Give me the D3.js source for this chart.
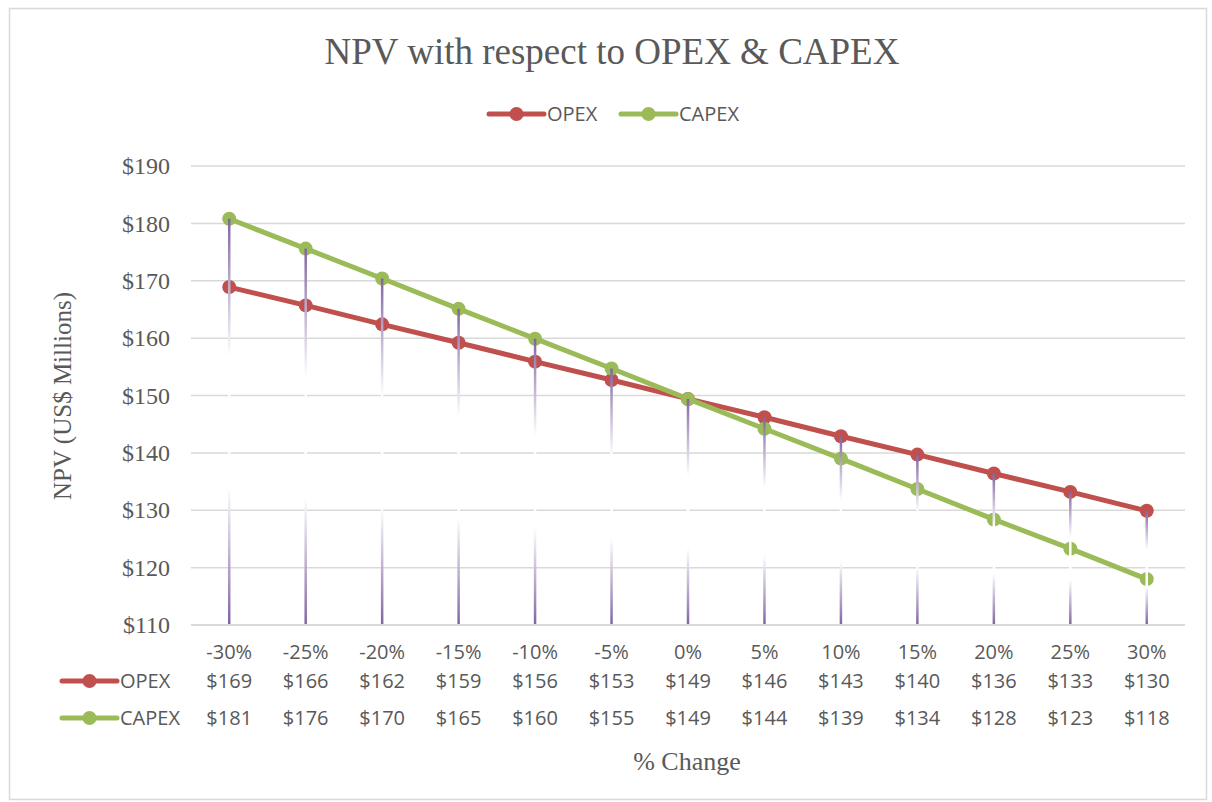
<!DOCTYPE html>
<html>
<head>
<meta charset="utf-8">
<script src="https://cdn.jsdelivr.net/npm/d3@7"></script>
<style>
  body { margin: 0; background: #fff; }
  svg { display: block; }
</style>
</head>
<body>
<svg id="chart" width="1212" height="802"></svg>
<script>
// chart data
const categories = ["-30%", "-25%", "-20%", "-15%", "-10%", "-5%", "0%", "5%", "10%", "15%", "20%", "25%", "30%"];
const opex = [168.9, 165.7, 162.4, 159.2, 155.9, 152.7, 149.4, 146.2, 142.9, 139.7, 136.4, 133.2, 129.9];
const capex = [180.8, 175.6, 170.4, 165.1, 159.9, 154.7, 149.4, 144.2, 139.0, 133.7, 128.4, 123.3, 118.0];
const yTicks = [110, 120, 130, 140, 150, 160, 170, 180, 190];

const series = [
    { name: "OPEX", values: opex, color: "#C0504D" },
    { name: "CAPEX", values: capex, color: "#9BBB59" }
];

const plot = { left: 191, right: 1185, top: 166, bottom: 625 };
const textColor = "#595959";
const serif = "'Liberation Serif', 'Times New Roman', serif";
const sans = "'Open Sans', 'Noto Sans', sans-serif";
const sansSize = "20px";

const svg = d3.select("#chart");

// outer chart border
svg.append("rect")
    .attr("x", 9.5).attr("y", 8.5)
    .attr("width", 1197).attr("height", 791)
    .attr("fill", "#fff")
    .attr("stroke", "#D9D9D9")
    .attr("stroke-width", 1.5);

const x = d3.scaleBand()
    .domain(categories)
    .range([plot.left, plot.right]);

const y = d3.scaleLinear()
    .domain([110, 190])
    .range([plot.bottom, plot.top]);

const cx = d => x(d) + x.bandwidth() / 2;

// gridlines
svg.append("g")
    .selectAll("line")
    .data(yTicks)
    .enter()
    .append("line")
    .attr("x1", plot.left).attr("x2", plot.right)
    .attr("y1", d => y(d)).attr("y2", d => y(d))
    .attr("stroke", "#D9D9D9")
    .attr("stroke-width", 1.5);

// y axis labels
const yAxis = d3.axisLeft(y)
    .tickValues(yTicks)
    .tickSize(0)
    .tickPadding(21)
    .tickFormat(d => "$" + d);

svg.append("g")
    .attr("transform", `translate(${plot.left},0)`)
    .call(yAxis)
    .call(g => g.select(".domain").remove())
    .call(g => g.selectAll("text")
        .attr("fill", textColor)
        .style("font-family", serif)
        .style("font-size", "24px"));

// lines and markers
const line = d3.line()
    .x((d, i) => cx(categories[i]))
    .y(d => y(d));

series.forEach(s => {
    svg.append("path")
        .datum(s.values)
        .attr("d", line)
        .attr("fill", "none")
        .attr("stroke", s.color)
        .attr("stroke-width", 5)
        .attr("stroke-linejoin", "round");

    svg.append("g")
        .selectAll("circle")
        .data(s.values)
        .enter()
        .append("circle")
        .attr("cx", (d, i) => cx(categories[i]))
        .attr("cy", d => y(d))
        .attr("r", 7)
        .attr("fill", s.color);
});

// drop lines with gradient, from the highest point down to the axis
const defs = svg.append("defs");
const grad = defs.append("linearGradient")
    .attr("id", "dropGrad")
    .attr("x1", "0").attr("y1", "0")
    .attr("x2", "0").attr("y2", "1");
grad.append("stop").attr("offset", "0%").attr("stop-color", "#8064A2");
grad.append("stop").attr("offset", "34%").attr("stop-color", "#ffffff");
grad.append("stop").attr("offset", "66%").attr("stop-color", "#ffffff");
grad.append("stop").attr("offset", "100%").attr("stop-color", "#8064A2");

svg.append("g")
    .selectAll("rect")
    .data(categories)
    .enter()
    .append("rect")
    .attr("x", d => cx(d) - 1.25)
    .attr("width", 2.5)
    .attr("y", (d, i) => y(Math.max(opex[i], capex[i])))
    .attr("height", (d, i) => plot.bottom - y(Math.max(opex[i], capex[i])))
    .attr("fill", "url(#dropGrad)");

// category axis line
svg.append("line")
    .attr("x1", plot.left).attr("x2", plot.right)
    .attr("y1", plot.bottom).attr("y2", plot.bottom)
    .attr("stroke", "#D9D9D9")
    .attr("stroke-width", 2);

// title
svg.append("text")
    .attr("x", 612).attr("y", 64)
    .attr("text-anchor", "middle")
    .attr("fill", textColor)
    .style("font-family", serif)
    .style("font-size", "37px")
    .text("NPV with respect to OPEX & CAPEX");

// legend key helper
function legendKey(g, x0, yc, color) {
    g.append("line")
        .attr("x1", x0).attr("x2", x0 + 55)
        .attr("y1", yc).attr("y2", yc)
        .attr("stroke", color)
        .attr("stroke-width", 5)
        .attr("stroke-linecap", "round");
    g.append("circle")
        .attr("cx", x0 + 27.5).attr("cy", yc)
        .attr("r", 7)
        .attr("fill", color);
}

// top legend
const legend = svg.append("g");
const legendX = [489, 621];
series.forEach((s, i) => {
    legendKey(legend, legendX[i], 114, s.color);
    legend.append("text")
        .attr("x", legendX[i] + 58).attr("y", 114)
        .attr("dy", "0.35em")
        .attr("fill", textColor)
        .style("font-family", sans)
        .style("font-size", sansSize)
        .text(s.name);
});

// data table
const table = svg.append("g");
table.selectAll("text.cat")
    .data(categories)
    .enter()
    .append("text")
    .attr("class", "cat")
    .attr("x", d => cx(d))
    .attr("y", 652)
    .attr("dy", "0.35em")
    .attr("text-anchor", "middle")
    .attr("fill", textColor)
    .style("font-family", sans)
    .style("font-size", sansSize)
    .text(d => d);

const rowY = [681, 718];
series.forEach((s, r) => {
    legendKey(table, 62, rowY[r], s.color);
    table.append("text")
        .attr("x", 120).attr("y", rowY[r])
        .attr("dy", "0.35em")
        .attr("fill", textColor)
        .style("font-family", sans)
        .style("font-size", sansSize)
        .text(s.name);

    table.selectAll("text.v" + r)
        .data(s.values)
        .enter()
        .append("text")
        .attr("class", "v" + r)
        .attr("x", (d, i) => cx(categories[i]))
        .attr("y", rowY[r])
        .attr("dy", "0.35em")
        .attr("text-anchor", "middle")
        .attr("fill", textColor)
        .style("font-family", sans)
        .style("font-size", sansSize)
        .text(d => "$" + Math.round(d));
});

// axis titles
svg.append("text")
    .attr("x", 687).attr("y", 761)
    .attr("dy", "0.35em")
    .attr("text-anchor", "middle")
    .attr("fill", textColor)
    .style("font-family", serif)
    .style("font-size", "26px")
    .text("% Change");

svg.append("text")
    .attr("transform", "translate(62,396) rotate(-90)")
    .attr("dy", "0.35em")
    .attr("text-anchor", "middle")
    .attr("fill", textColor)
    .style("font-family", serif)
    .style("font-size", "25px")
    .text("NPV (US$ Millions)");
</script>
</body>
</html>
